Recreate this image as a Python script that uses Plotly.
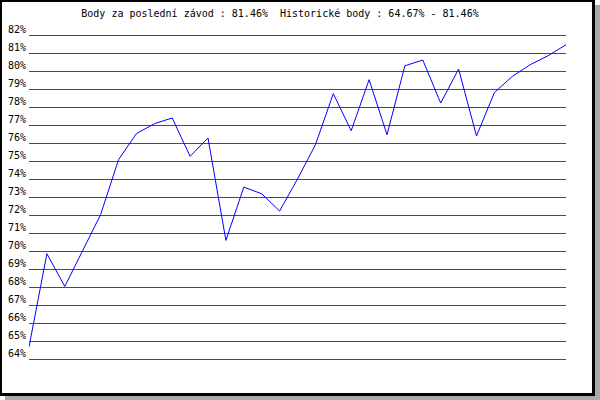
import plotly.graph_objects as go

races = list(range(31))
points = [64.67, 69.85, 68.03, 70.0, 72.02, 75.07, 76.52, 77.07, 77.39, 75.26,
          76.28, 70.59, 73.55, 73.18, 72.22, 74.0, 75.9, 78.74, 76.68, 79.52,
          76.46, 80.29, 80.61, 78.22, 80.11, 76.39, 78.8, 79.70, 80.35, 80.85, 81.46]
tick_vals = list(range(64, 83))
tick_text = [f"{v}%" for v in tick_vals]
title_text = "Body za poslední závod : 81.46%  Historické body : 64.67% - 81.46%"

W, H = 600, 400
PAD = 2
L, R, T, B = 29, 34, 35 - PAD, 41 - PAD
pw, ph = W - L - R, H - T - B
unit = (ph - 2 * PAD) / (tick_vals[-1] - tick_vals[0])
y_range = [tick_vals[0] - PAD / unit, tick_vals[-1] + PAD / unit]
half_px = 0.5 / unit  # half a pixel in data units, so 1px lines land on a pixel row

def px(x):
    return (x - L) / pw

def py(y):
    return (H - B - y) / ph

fig = go.Figure()
fig.add_trace(go.Scatter(x=races, y=points, mode="lines",
                         line=dict(color="#0000ff", width=1), hoverinfo="skip"))

shapes = [
    dict(type="rect", xref="paper", yref="paper", x0=px(595), x1=px(600), y0=py(400), y1=py(5),
         fillcolor="#aaaaaa", line=dict(width=0), layer="above"),
    dict(type="rect", xref="paper", yref="paper", x0=px(5), x1=px(600), y0=py(400), y1=py(396),
         fillcolor="#aaaaaa", line=dict(width=0), layer="above"),
    dict(type="rect", xref="paper", yref="paper", x0=px(0), x1=px(2), y0=py(396), y1=py(0),
         fillcolor="#000000", line=dict(width=0), layer="above"),
    dict(type="rect", xref="paper", yref="paper", x0=px(592), x1=px(595), y0=py(396), y1=py(0),
         fillcolor="#000000", line=dict(width=0), layer="above"),
    dict(type="rect", xref="paper", yref="paper", x0=px(0), x1=px(595), y0=py(2), y1=py(0),
         fillcolor="#000000", line=dict(width=0), layer="above"),
    dict(type="rect", xref="paper", yref="paper", x0=px(0), x1=px(595), y0=py(396), y1=py(393),
         fillcolor="#000000", line=dict(width=0), layer="above"),
]
# horizontal red grid lines at each tick value, placed via the y axis scale
for v in tick_vals:
    shapes.append(dict(type="line", xref="paper", yref="y", x0=0, x1=1,
                       y0=v - half_px, y1=v - half_px,
                       line=dict(color="#ff0000", width=1), layer="below"))

fig.update_layout(
    width=W, height=H,
    margin=dict(l=L, r=R, t=T, b=B, pad=0, autoexpand=False),
    paper_bgcolor="white", plot_bgcolor="white",
    showlegend=False,
    shapes=shapes,
    font=dict(family="DejaVu Sans Mono", size=10, color="black"),
    title=dict(text=title_text, xref="container", yref="container",
               x=280 / W, y=1 - 13.5 / H, xanchor="center", yanchor="middle",
               font=dict(family="DejaVu Sans Mono", size=10, color="black"),
               automargin=False),
    xaxis=dict(range=[0, 30], showgrid=False, zeroline=False, showticklabels=False,
               showline=False, ticks="", automargin=False, fixedrange=True),
    yaxis=dict(range=y_range, tickvals=tick_vals, ticktext=tick_text,
               showgrid=False, zeroline=False, showline=False, ticks="",
               ticklabelshift=-6, ticklabelstandoff=2, automargin=False, fixedrange=True,
               tickfont=dict(family="DejaVu Sans Mono", size=10, color="black")),
)

fig.write_html("out.html", config=dict(displayModeBar=False, staticPlot=True),
               post_script="document.body.style.margin='0';document.body.style.padding='0';")
